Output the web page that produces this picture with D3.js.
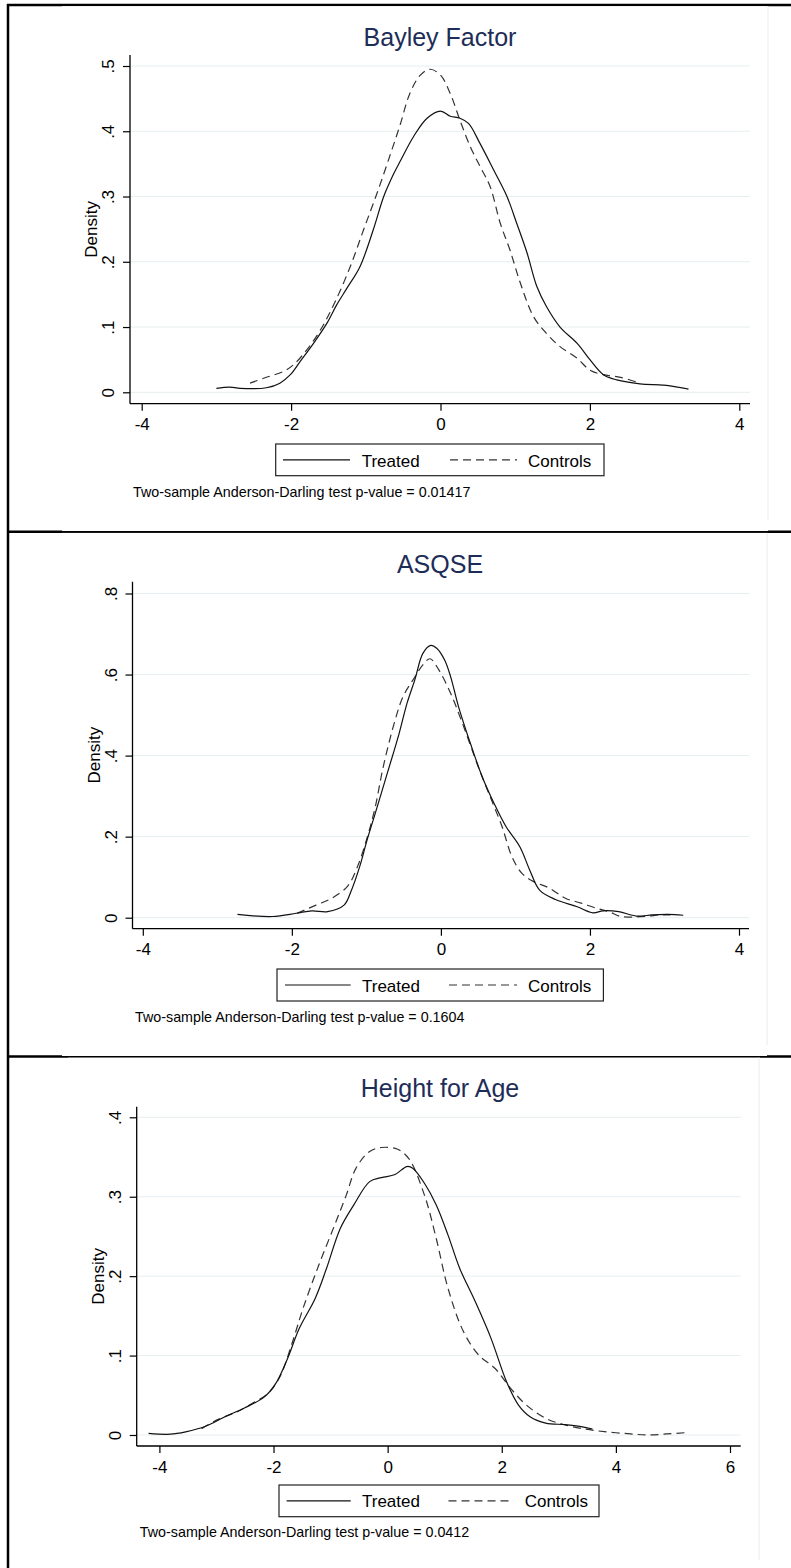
<!DOCTYPE html>
<html>
<head>
<meta charset="utf-8">
<script src="https://cdn.jsdelivr.net/npm/d3@7"></script>
<style>
body { margin: 0; background: #fff; }
text { font-family: "Liberation Sans", Arial, sans-serif; }
</style>
</head>
<body>
<div id="chart"></div>
<script>
// Kernel density estimates, [x, density]
const bayleyTreated = [[-3.00,0.006],[-2.82,0.008],[-2.68,0.006],[-2.33,0.007],[-2.15,0.014],[-2.01,0.027],
  [-1.88,0.047],[-1.70,0.075],[-1.52,0.106],[-1.39,0.134],[-1.25,0.160],[-1.08,0.192],[-0.90,0.249],
  [-0.76,0.300],[-0.63,0.334],[-0.54,0.354],[-0.36,0.392],[-0.18,0.420],[0.00,0.431],[0.13,0.423],
  [0.26,0.420],[0.375,0.412],[0.53,0.381],[0.71,0.341],[0.89,0.300],[1.02,0.259],[1.16,0.213],
  [1.29,0.162],[1.42,0.131],[1.60,0.100],[1.83,0.075],[2.00,0.050],[2.18,0.027],[2.36,0.019],
  [2.67,0.013],[2.99,0.011],[3.17,0.008],[3.32,0.005]];
const bayleyControls = [[-2.55,0.014],[-2.33,0.023],[-2.10,0.032],[-1.97,0.042],[-1.79,0.065],[-1.61,0.095],
  [-1.43,0.134],[-1.21,0.192],[-1.03,0.249],[-0.85,0.305],[-0.67,0.365],[-0.54,0.410],[-0.41,0.458],
  [-0.27,0.486],[-0.14,0.495],[0.00,0.486],[0.13,0.458],[0.26,0.417],[0.40,0.376],[0.53,0.346],
  [0.665,0.315],[0.80,0.259],[0.93,0.218],[1.07,0.167],[1.245,0.116],[1.42,0.090],[1.60,0.070],
  [1.83,0.052],[2.00,0.034],[2.18,0.027],[2.41,0.023],[2.67,0.014]];

const asqseTreated = [[-2.73,0.008],[-2.26,0.003],[-1.94,0.011],[-1.73,0.017],[-1.52,0.015],[-1.30,0.031],
  [-1.20,0.068],[-1.09,0.126],[-0.99,0.192],[-0.88,0.258],[-0.72,0.356],[-0.56,0.455],[-0.455,0.529],
  [-0.35,0.587],[-0.24,0.653],[-0.135,0.672],[-0.056,0.665],[0.05,0.636],[0.13,0.595],[0.236,0.521],
  [0.396,0.430],[0.554,0.348],[0.714,0.282],[0.873,0.225],[1.059,0.175],[1.191,0.118],[1.324,0.068],
  [1.537,0.045],[1.829,0.027],[2.041,0.012],[2.174,0.017],[2.386,0.015],[2.625,0.004],[2.838,0.007],
  [3.05,0.008],[3.252,0.006]];
const asqseControls = [[-1.93,0.011],[-1.675,0.031],[-1.464,0.048],[-1.251,0.078],[-1.119,0.126],[-0.986,0.200],
  [-0.88,0.274],[-0.773,0.373],[-0.614,0.488],[-0.507,0.546],[-0.374,0.587],[-0.242,0.624],[-0.146,0.639],
  [-0.03,0.612],[0.13,0.554],[0.288,0.480],[0.50,0.373],[0.66,0.299],[0.82,0.225],[0.952,0.151],
  [1.085,0.110],[1.245,0.089],[1.457,0.073],[1.67,0.048],[1.882,0.036],[2.094,0.023],[2.254,0.015],
  [2.413,0.003],[2.625,0.002],[2.785,0.004],[2.944,0.007],[3.08,0.007]];

const heightTreated = [[-4.19,0.002],[-3.81,0.001],[-3.54,0.004],[-3.19,0.011],[-2.85,0.023],[-2.51,0.034],
  [-2.16,0.048],[-1.96,0.065],[-1.75,0.097],[-1.55,0.134],[-1.27,0.172],[-1.07,0.210],[-0.83,0.260],
  [-0.59,0.290],[-0.315,0.319],[-0.11,0.324],[0.13,0.328],[0.337,0.338],[0.44,0.336],[0.645,0.317],
  [0.85,0.290],[1.057,0.252],[1.262,0.210],[1.535,0.168],[1.81,0.122],[2.084,0.067],[2.29,0.038],
  [2.496,0.023],[2.77,0.015],[3.11,0.013],[3.39,0.0105],[3.59,0.0076]];
const heightControls = [[-3.26,0.008],[-2.99,0.019],[-2.645,0.029],[-2.37,0.040],[-2.10,0.052],[-1.89,0.073],
  [-1.686,0.113],[-1.48,0.160],[-1.206,0.214],[-0.931,0.264],[-0.725,0.302],[-0.554,0.336],[-0.315,0.357],
  [-0.109,0.362],[0.165,0.360],[0.371,0.348],[0.645,0.302],[0.85,0.248],[1.057,0.185],[1.33,0.130],
  [1.604,0.100],[1.879,0.084],[2.152,0.059],[2.427,0.038],[2.77,0.021],[3.113,0.0126],[3.454,0.0076],
  [3.798,0.0042],[4.21,0.0017],[4.55,0.0],[4.895,0.0013],[5.237,0.003]];

const titles = ["Bayley Factor", "ASQSE", "Height for Age"];
const pValues = ["0.01417", "0.1604", "0.0412"];
const seriesNames = ["Treated", "Controls"];
const xTicksShort = [-4, -2, 0, 2, 4];
const xTicksLong = [-4, -2, 0, 2, 4, 6];
const yTicksBayley = [0, .1, .2, .3, .4, .5];
const yTicksAsqse = [0, .2, .4, .6, .8];
const yTicksHeight = [0, .1, .2, .3, .4];

const W = 791, H = 1568;
const svg = d3.select("#chart").append("svg")
  .attr("width", W).attr("height", H);

// Table rules the three graphs sit in
const rule = svg.append("g").attr("stroke", "#000").attr("stroke-width", 2.5);
[5, 531.7, 1056.5].forEach(y => rule.append("line").attr("x1", 7).attr("x2", W).attr("y1", y).attr("y2", y));
rule.append("line").attr("x1", 8).attr("x2", 8).attr("y1", 4).attr("y2", H);

// Stata style: no leading zero, plain hyphen for negatives
const fmtY = v => v === 0 ? "0" : d3.format(".1f")(v).replace(/^0/, "");
const fmtX = v => String(v);

const panels = [
  { title: titles[0], p: pValues[0], treated: bayleyTreated, controls: bayleyControls,
    xDomain: [-4, 4], xRange: [141.7, 739.3], xTicks: xTicksShort,
    yDomain: [0, .5], yRange: [392.3, 66], yTicks: yTicksBayley,
    axL: 130, axB: 403.7, axT: 55, axR: 750, titleY: 46,
    img: [62, 6.2, 768, 531], frameX: 768, frameB: 520,
    leg: { x: 275.7, y: 444, w: 328.3, h: 31.7, s: [283, 350], t: 361.7, d: [450, 517], c: 528, base: 466.5 },
    note: [133, 497] },
  { title: titles[1], p: pValues[1], treated: asqseTreated, controls: asqseControls,
    xDomain: [-4, 4], xRange: [142.8, 739], xTicks: xTicksShort,
    yDomain: [0, .8], yRange: [917.7, 593.5], yTicks: yTicksAsqse,
    axL: 132.5, axB: 928.7, axT: 581.7, axR: 749, titleY: 573,
    img: [62, 532.9, 767, 1056], frameX: 767, frameB: 1045,
    leg: { x: 277, y: 969, w: 326.4, h: 32, s: [285, 350.7], t: 362, d: [449, 517], c: 528, base: 991.5 },
    note: [135, 1021.5] },
  { title: titles[2], p: pValues[2], treated: heightTreated, controls: heightControls,
    xDomain: [-4, 6], xRange: [159.4, 730], xTicks: xTicksLong,
    yDomain: [0, .4], yRange: [1435, 1117.3], yTicks: yTicksHeight,
    axL: 136.7, axB: 1446, axT: 1106.7, axR: 740.7, titleY: 1097,
    img: [68, 1057.7, 760, H], frameX: 759, frameB: 1560,
    leg: { x: 279, y: 1485, w: 320, h: 31.7, s: [286.6, 350.7], t: 362, d: [448.5, 513.6], c: 524.7, base: 1507.3 },
    note: [139.8, 1536.5] }
];

panels.forEach(cfg => {
  const g = svg.append("g");

  // white graph image sitting over the rules
  g.append("rect")
    .attr("x", cfg.img[0]).attr("y", cfg.img[1])
    .attr("width", cfg.img[2] - cfg.img[0]).attr("height", cfg.img[3] - cfg.img[1])
    .attr("fill", "#fff");
  g.append("line")
    .attr("x1", cfg.frameX).attr("x2", cfg.frameX)
    .attr("y1", cfg.img[1]).attr("y2", cfg.frameB)
    .attr("stroke", "#e4edf0").attr("stroke-width", 1);

  const x = d3.scaleLinear().domain(cfg.xDomain).range(cfg.xRange);
  const y = d3.scaleLinear().domain(cfg.yDomain).range(cfg.yRange);

  // gridlines
  g.append("g").selectAll("line")
    .data(cfg.yTicks).join("line")
    .attr("x1", cfg.axL).attr("x2", cfg.axR)
    .attr("y1", d => y(d)).attr("y2", d => y(d))
    .attr("stroke", "#e6eef1").attr("stroke-width", 1);

  // density curves
  const line = d3.line().x(d => x(d[0])).y(d => y(d[1])).curve(d3.curveCatmullRom.alpha(0.5));
  g.append("path").datum(cfg.controls)
    .attr("d", line).attr("fill", "none")
    .attr("stroke", "#333").attr("stroke-width", 1.2).attr("stroke-dasharray", "8,5");
  g.append("path").datum(cfg.treated)
    .attr("d", line).attr("fill", "none")
    .attr("stroke", "#111").attr("stroke-width", 1.2);

  // axes
  const xAxis = g.append("g")
    .attr("transform", `translate(0,${cfg.axB})`)
    .call(d3.axisBottom(x).tickValues(cfg.xTicks).tickSize(7).tickSizeOuter(0).tickFormat(fmtX));
  xAxis.select(".domain").remove();
  xAxis.append("line").attr("x1", cfg.axL).attr("x2", cfg.axR).attr("stroke", "#000").attr("stroke-width", 1.3);

  const yAxis = g.append("g")
    .attr("transform", `translate(${cfg.axL},0)`)
    .call(d3.axisLeft(y).tickValues(cfg.yTicks).tickSize(7).tickSizeOuter(0).tickFormat(fmtY));
  yAxis.select(".domain").remove();
  yAxis.append("line").attr("y1", cfg.axT).attr("y2", cfg.axB).attr("stroke", "#000").attr("stroke-width", 1.3);

  [xAxis, yAxis].forEach(a => {
    a.selectAll(".tick line").attr("stroke", "#000").attr("stroke-width", 1.2);
    a.selectAll(".tick text").attr("fill", "#000").style("font-size", "17px")
      .style("font-family", "'Liberation Sans', Arial, sans-serif");
  });
  xAxis.selectAll(".tick text").attr("dy", null).attr("y", 26.5);
  yAxis.selectAll(".tick text")
    .attr("x", null).attr("dy", null)
    .attr("text-anchor", "middle")
    .attr("transform", "translate(-16,0) rotate(-90)");

  // axis title
  g.append("text")
    .attr("transform", `translate(${cfg.axL - 33},${(cfg.axT + cfg.axB) / 2}) rotate(-90)`)
    .attr("text-anchor", "middle")
    .style("font-size", "17px")
    .text("Density");

  // title
  g.append("text")
    .attr("x", 440).attr("y", cfg.titleY)
    .attr("text-anchor", "middle")
    .attr("fill", "#1e2d58")
    .style("font-size", "25px")
    .text(cfg.title);

  // legend
  const L = cfg.leg;
  const lg = g.append("g");
  lg.append("rect").attr("x", L.x).attr("y", L.y).attr("width", L.w).attr("height", L.h)
    .attr("fill", "#fff").attr("stroke", "#222").attr("stroke-width", 1.2);
  const midY = L.y + L.h / 2;
  lg.append("line").attr("x1", L.s[0]).attr("x2", L.s[1]).attr("y1", midY).attr("y2", midY)
    .attr("stroke", "#111").attr("stroke-width", 1.2);
  lg.append("line").attr("x1", L.d[0]).attr("x2", L.d[1]).attr("y1", midY).attr("y2", midY)
    .attr("stroke", "#333").attr("stroke-width", 1.2).attr("stroke-dasharray", "8,5");
  lg.append("text").attr("x", L.t).attr("y", L.base).style("font-size", "17px").text(seriesNames[0]);
  lg.append("text").attr("x", L.c).attr("y", L.base).style("font-size", "17px").text(seriesNames[1]);

  // test note
  g.append("text")
    .attr("x", cfg.note[0]).attr("y", cfg.note[1])
    .style("font-size", "14.3px")
    .text(`Two-sample Anderson-Darling test p-value = ${cfg.p}`);
});
</script>
</body>
</html>
